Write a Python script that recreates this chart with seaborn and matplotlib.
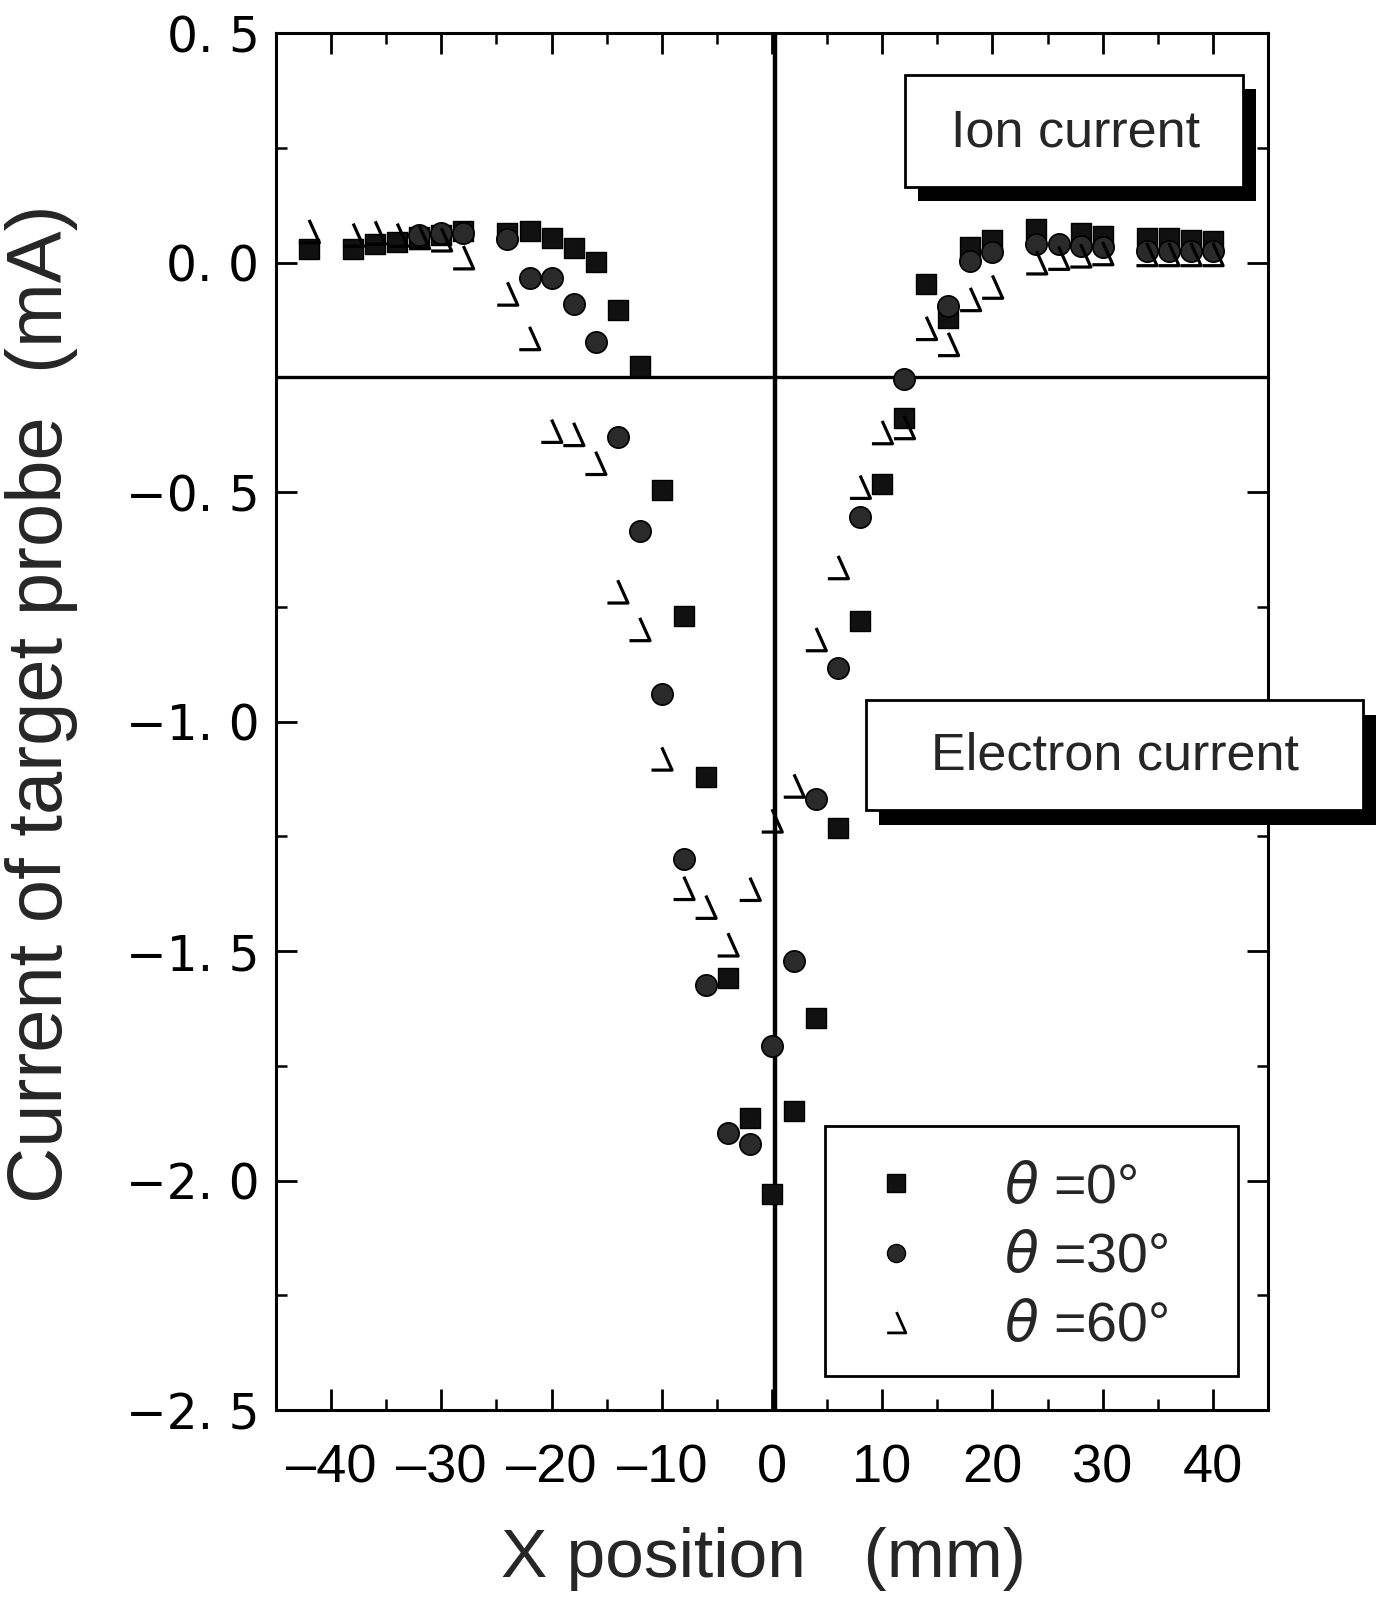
import numpy as np
import pandas as pd
import matplotlib
matplotlib.use("Agg")
import matplotlib.pyplot as plt
from matplotlib.path import Path
from matplotlib.patches import Rectangle
from matplotlib.lines import Line2D
from matplotlib.ticker import MultipleLocator
import seaborn as sns

# Target-probe current (mA) versus probe position X (mm) for three tilt angles
x_theta0 = [-42, -38, -36, -34, -32, -30, -28, -24, -22, -20, -18, -16, -14, -12,
            -10, -8, -6, -4, -2, 0, 2, 4, 6, 8, 10, 12, 14, 16, 18, 20,
            24, 28, 30, 34, 36, 38, 40]
i_theta0 = [0.030, 0.030, 0.040, 0.045, 0.055, 0.060, 0.069, 0.065, 0.069, 0.053,
            0.031, 0.002, -0.103, -0.225, -0.496, -0.770, -1.120, -1.559, -1.863,
            -2.030, -1.848, -1.645, -1.231, -0.781, -0.483, -0.338, -0.047, -0.120,
            0.033, 0.049, 0.073, 0.065, 0.058, 0.054, 0.054, 0.050, 0.047]

x_theta30 = [-32, -30, -28, -24, -22, -20, -18, -16, -14, -12, -10, -8, -6, -4,
             -2, 0, 2, 4, 6, 8, 12, 16, 18, 20, 24, 26, 28, 30, 34, 36, 38, 40]
i_theta30 = [0.060, 0.065, 0.065, 0.051, -0.033, -0.033, -0.091, -0.174, -0.381,
             -0.585, -0.941, -1.300, -1.573, -1.897, -1.921, -1.706, -1.521, -1.169,
             -0.884, -0.554, -0.254, -0.094, 0.004, 0.022, 0.040, 0.040, 0.036,
             0.033, 0.026, 0.026, 0.026, 0.026]

x_theta60 = [-42, -38, -36, -34, -32, -30, -28, -24, -22, -20, -18, -16, -14, -12,
             -10, -8, -6, -4, -2, 0, 2, 4, 6, 8, 10, 12, 14, 16, 18, 20,
             24, 26, 28, 30, 34, 36, 38, 40]
i_theta60 = [0.068, 0.060, 0.065, 0.060, 0.055, 0.050, 0.011, -0.068, -0.165,
             -0.367, -0.374, -0.437, -0.717, -0.799, -1.081, -1.363, -1.404, -1.486,
             -1.365, -1.216, -1.140, -0.821, -0.664, -0.489, -0.370, -0.359, -0.143,
             -0.178, -0.080, -0.053, 0.000, 0.010, 0.015, 0.020, 0.018, 0.018,
             0.018, 0.018]

series_labels = [r"$\theta$ =0°", r"$\theta$ =30°", r"$\theta$ =60°"]

x_ticks = [-40, -30, -20, -10, 0, 10, 20, 30, 40]
x_tick_labels = ["–40", "–30", "–20", "–10", "0", "10", "20", "30", "40"]
y_ticks = [0.5, 0.0, -0.5, -1.0, -1.5, -2.0, -2.5]
y_tick_labels = ["0. 5", "0. 0", "−0. 5", "−1. 0", "−1. 5", "−2. 0", "−2. 5"]

# Boundary between the ion-current and electron-current regions
region_boundary = -0.25
centre_position = 0.3

df = pd.concat([
    pd.DataFrame({"x": x_theta0, "current": i_theta0, "angle": series_labels[0]}),
    pd.DataFrame({"x": x_theta30, "current": i_theta30, "angle": series_labels[1]}),
    pd.DataFrame({"x": x_theta60, "current": i_theta60, "angle": series_labels[2]}),
], ignore_index=True)

sns.set_theme(style="ticks")
plt.rcParams["font.family"] = ["Liberation Sans", "DejaVu Sans"]
plt.rcParams["mathtext.fontset"] = "dejavusans"
plt.rcParams["axes.unicode_minus"] = True

fig = plt.figure(figsize=(13.83, 16), dpi=100)
fig.patch.set_facecolor("white")
ax = fig.add_axes([0.1996, 0.11875, 0.7172, 0.8606])
ax.set_facecolor("white")

# Open triangle drawn as apex -> right corner -> left corner (left side left open)
tri_marker = Path([(0.0, 0.5), (0.45, -0.5), (-0.45, -0.5)],
                  [Path.MOVETO, Path.LINETO, Path.LINETO])

styles = {
    series_labels[0]: dict(marker="s", s=225, color="#111111", edgecolor="black", linewidth=1.0),
    series_labels[1]: dict(marker="o", s=235, color="#2a2a2a", edgecolor="black", linewidth=1.2),
    series_labels[2]: dict(marker=tri_marker, s=270, color="black", facecolor="none",
                           edgecolor="black", linewidth=2.3),
}

for label in series_labels:
    sub = df[df["angle"] == label]
    sns.scatterplot(data=sub, x="x", y="current", ax=ax, legend=False, zorder=4,
                    **styles[label])

ax.axhline(region_boundary, color="black", lw=2.4, zorder=2)
ax.axvline(centre_position, color="black", lw=3.2, zorder=2)

ax.set_xlim(-45, 45)
ax.set_ylim(-2.5, 0.5)
ax.set_xticks(x_ticks)
ax.set_xticklabels(x_tick_labels, family="Liberation Sans", fontsize=39)
ax.set_yticks(y_ticks)
ax.set_yticklabels(y_tick_labels, family="DejaVu Sans", fontsize=35)
ax.xaxis.set_minor_locator(MultipleLocator(5))
ax.yaxis.set_minor_locator(MultipleLocator(0.25))
ax.tick_params(which="major", direction="in", length=15, width=2.0,
               top=True, right=True, colors="black")
ax.tick_params(which="minor", direction="in", length=8, width=1.8,
               top=True, right=True, colors="black")
ax.tick_params(axis="x", which="major", pad=24)
ax.tick_params(axis="y", which="major", pad=12)
for side in ax.spines.values():
    side.set_linewidth(2.2)
    side.set_color("black")

ax.set_xlabel("X position   (mm)", fontsize=50, va="center")
ax.xaxis.set_label_coords(0.491, -0.1082)
ax.set_ylabel("Current of target probe  (mA)", fontsize=56, va="center")
ax.yaxis.set_label_coords(-0.2369, 0.5127)

# Legend: markers and angle labels inside a plain rectangular frame
handles = [
    Line2D([], [], ls="none", marker="s", ms=13, mfc="#111111", mec="black"),
    Line2D([], [], ls="none", marker="o", ms=13, mfc="#2a2a2a", mec="black"),
    Line2D([], [], ls="none", marker=tri_marker, ms=15, mfc="none", mec="black", mew=2.0),
]
leg = ax.legend(handles, series_labels, loc="center left",
                bbox_to_anchor=(0.5968, 0.1103), frameon=False, fontsize=40,
                borderpad=0, borderaxespad=0, handlelength=1.0,
                handletextpad=1.45, labelspacing=0.31)
ax.add_patch(Rectangle((0.5534, 0.0247), 0.9698 - 0.5534, 0.2062 - 0.0247,
                       transform=ax.transAxes, facecolor="none", edgecolor="black",
                       lw=2.0, zorder=5))

# Region annotation boxes with drop shadows (figure pixel coordinates)
W, H = 1383.0, 1600.0


def shadow_box(x0, y0, x1, y1, sx1, sy1, text, tx, ty):
    fig.add_artist(Rectangle((sx1 / W - (x1 - x0) / W, 1 - sy1 / H),
                             (x1 - x0) / W, (y1 - y0) / H,
                             transform=fig.transFigure, facecolor="black",
                             edgecolor="none", zorder=5))
    fig.add_artist(Rectangle((x0 / W, 1 - y1 / H), (x1 - x0) / W, (y1 - y0) / H,
                             transform=fig.transFigure, facecolor="white",
                             edgecolor="black", lw=2.0, zorder=6))
    fig.text(tx / W, 1 - ty / H, text, fontsize=37.5, ha="center", va="center",
             zorder=7)


shadow_box(905, 75, 1243, 187, 1256, 201, "Ion current", 1076, 133)
shadow_box(866, 700, 1363, 810, 1376, 825, "Electron current", 1115, 756)

fig.savefig("out.png", dpi=100, facecolor="white")
